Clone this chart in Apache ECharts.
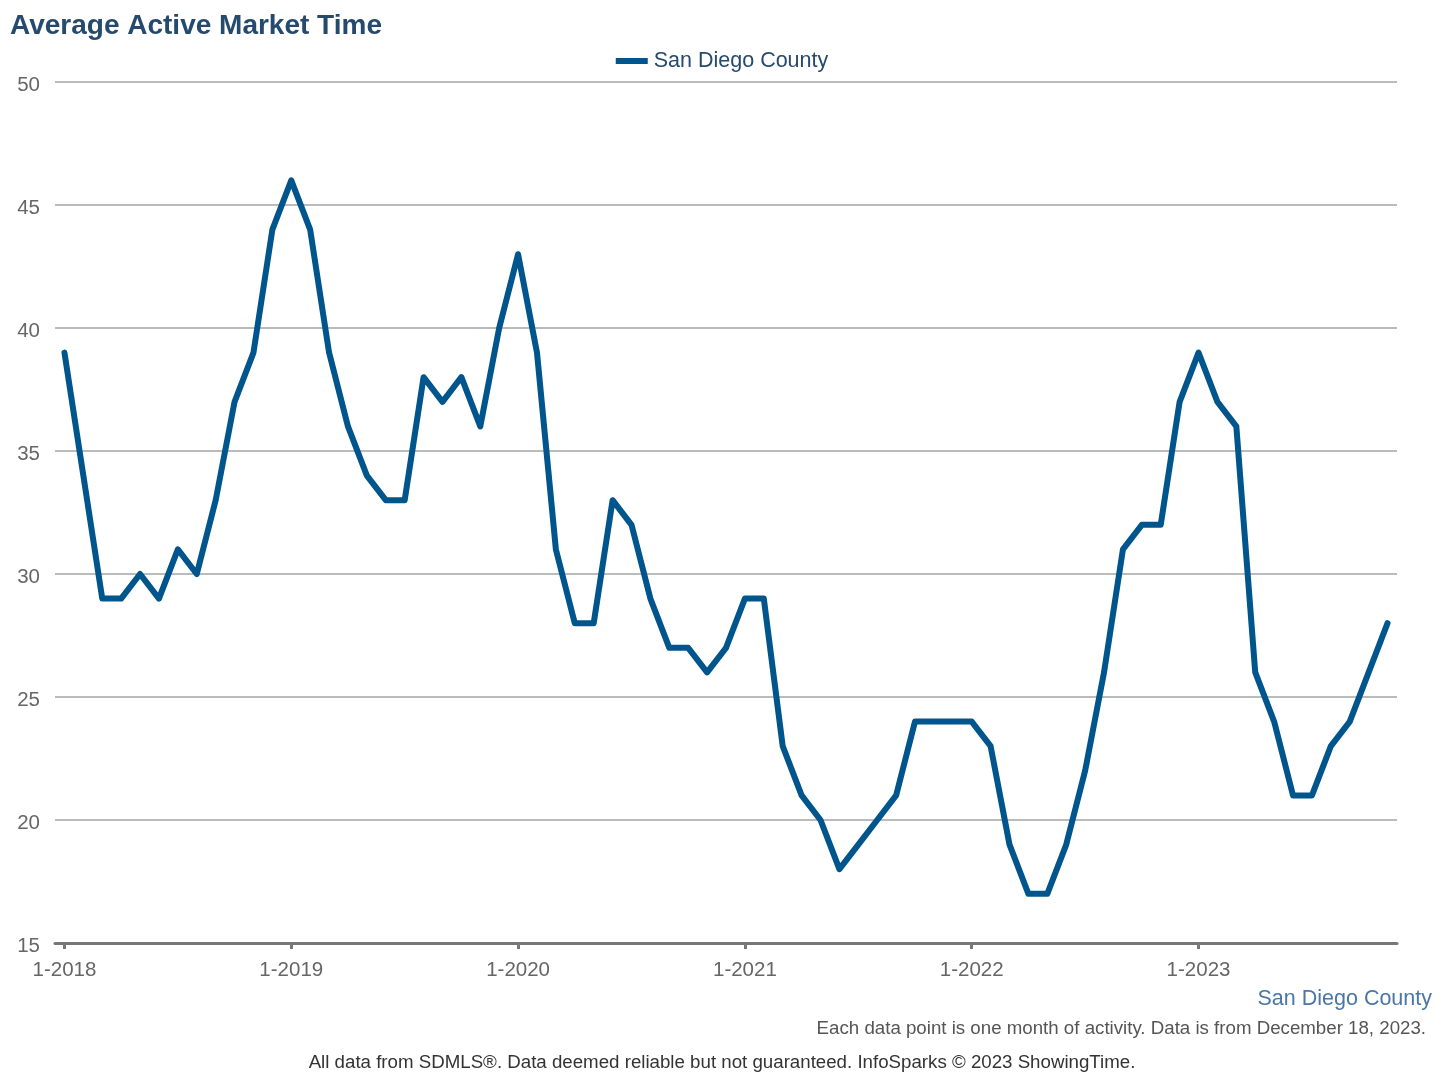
<!DOCTYPE html>
<html>
<head>
<meta charset="utf-8">
<script src="https://cdn.jsdelivr.net/npm/echarts@6/dist/echarts.min.js"></script>
<style>
html,body{margin:0;padding:0;background:#fff;}
#chart{width:1444px;height:1080px;}
</style>
</head>
<body>
<div id="chart"></div>
<script>
var seriesName = 'San Diego County';
var years = [2018, 2019, 2020, 2021, 2022, 2023];
var marketTime = [
  39, 34, 29, 29, 30, 29, 31, 30, 33, 37, 39, 44,
  46, 44, 39, 36, 34, 33, 33, 38, 37, 38, 36, 40,
  43, 39, 31, 28, 28, 33, 32, 29, 27, 27, 26, 27,
  29, 29, 23, 21, 20, 18, 19, 20, 21, 24, 24, 24,
  24, 23, 19, 17, 17, 19, 22, 26, 31, 32, 32, 37,
  39, 37, 36, 26, 24, 21, 21, 23, 24, 26, 28
];
var yTicks = [15, 20, 25, 30, 35, 40, 45, 50];

var categories = [];
for (var yi = 0; yi < years.length; yi++) {
  for (var m = 1; m <= 12; m++) {
    if (categories.length < marketTime.length) categories.push(m + '-' + years[yi]);
  }
}

var FONT = '"Liberation Sans", Arial, sans-serif';
var chart = echarts.init(document.getElementById('chart'), null, {renderer: 'canvas'});
chart.setOption({
  animation: false,
  backgroundColor: '#ffffff',
  textStyle: {fontFamily: FONT},
  title: [
    {text: 'Average Active Market Time', left: 5, top: 7,
     textStyle: {fontFamily: FONT, fontSize: 28, fontWeight: 'bold', color: '#264a6e'}},
    {text: 'San Diego County', right: 7, top: 983,
     textStyle: {fontFamily: FONT, fontSize: 21.5, fontWeight: 'normal', color: '#4a76a8'}},
    {text: 'Each data point is one month of activity. Data is from December 18, 2023.', right: 13, top: 1014,
     textStyle: {fontFamily: FONT, fontSize: 18.7, fontWeight: 'normal', color: '#555555'}},
    {text: 'All data from SDMLS®. Data deemed reliable but not guaranteed. InfoSparks © 2023 ShowingTime.', left: 'center', top: 1048,
     textStyle: {fontFamily: FONT, fontSize: 18.7, fontWeight: 'normal', color: '#333333'}}
  ],
  legend: {
    top: 45, left: 'center',
    itemWidth: 32, itemHeight: 6, itemGap: 10,
    icon: 'rect',
    textStyle: {fontFamily: FONT, fontSize: 21.5, color: '#264a6e', padding: [0, 0, 0, 1]},
    data: [seriesName]
  },
  grid: {left: 55, right: 47, top: 82, bottom: 137, containLabel: false},
  xAxis: {
    type: 'category',
    data: categories,
    boundaryGap: true,
    axisLine: {lineStyle: {color: '#777777', width: 3}},
    axisTick: {show: true, alignWithLabel: true, length: 6,
      interval: function (i) { return i % 12 === 0; },
      lineStyle: {color: '#777777', width: 3}},
    axisLabel: {
      interval: function (i) { return i % 12 === 0; },
      fontFamily: FONT, fontSize: 20.5, color: '#666666', margin: 17
    },
    splitLine: {show: false}
  },
  yAxis: {
    type: 'value',
    min: yTicks[0], max: yTicks[yTicks.length - 1], interval: 5,
    axisLine: {show: false},
    axisTick: {show: false},
    axisLabel: {
      margin: 15,
      formatter: '{v|{value}}',
      rich: {v: {fontFamily: FONT, fontSize: 20.5, color: '#666666', padding: [6, 0, 0, 0]}}
    },
    splitLine: {lineStyle: {color: '#bbbbbb', width: 2}}
  },
  series: [{
    name: seriesName,
    type: 'line',
    data: marketTime,
    showSymbol: false,
    symbol: 'none',
    lineStyle: {color: '#00558c', width: 6, join: 'round', cap: 'round'},
    itemStyle: {color: '#00558c'}
  }]
});
</script>
</body>
</html>
